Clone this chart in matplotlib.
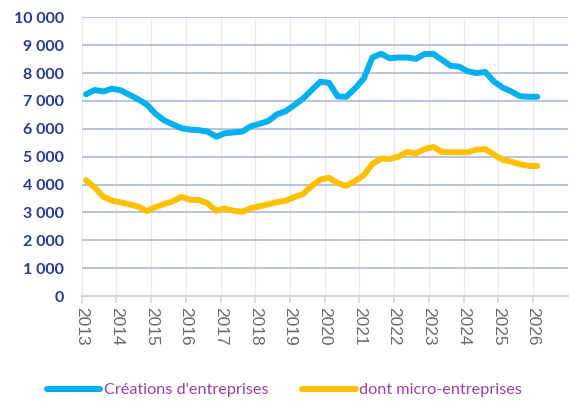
import matplotlib.pyplot as plt
import numpy as np

# quarterly series, 2013Q1 .. 2026Q1
first_year = 2013
creations = [
    7240, 7390, 7340, 7440,
    7380, 7220, 7060, 6870,
    6540, 6300, 6160, 6020,
    5970, 5950, 5900, 5720,
    5840, 5870, 5900, 6090,
    6180, 6280, 6520, 6630,
    6850, 7080, 7390, 7690,
    7650, 7160, 7150, 7450,
    7800, 8560, 8690, 8530,
    8560, 8560, 8510, 8680,
    8690, 8480, 8260, 8230,
    8060, 8000, 8040, 7700,
    7480, 7340, 7170, 7150,
    7150,
]
micro = [
    4150, 3890, 3560, 3420,
    3360, 3290, 3210, 3050,
    3190, 3300, 3400, 3560,
    3450, 3445, 3330, 3060,
    3140, 3060, 3025, 3150,
    3220, 3290, 3370, 3420,
    3550, 3660, 3950, 4180,
    4240, 4050, 3950, 4130,
    4330, 4740, 4930, 4920,
    5000, 5170, 5120, 5270,
    5350, 5170, 5160, 5160,
    5160, 5250, 5270, 5080,
    4890, 4820, 4730, 4670,
    4665,
]
labels = ["Créations d'entreprises", "dont micro-entreprises"]
years = list(range(2013, 2027))
y_ticks = list(range(0, 10001, 1000))

BLUE = '#00b0f0'
GOLD = '#ffc000'

# points sit in the middle of each quarter
x = first_year + (np.arange(len(creations)) + 0.5) / 4

fig = plt.figure(figsize=(5.69, 4.01), dpi=100)
ax = fig.add_axes([0.1436, 0.2618, 0.854, 0.695])

ax.plot(x, creations, color=BLUE, lw=4.3, solid_capstyle='round',
        solid_joinstyle='round', label=labels[0], zorder=3)
ax.plot(x, micro, color=GOLD, lw=4.3, solid_capstyle='round',
        solid_joinstyle='round', label=labels[1], zorder=3)

ax.set_xlim(2013, 2027)
ax.set_ylim(0, 10000)

ax.set_yticks(y_ticks)
ax.set_yticklabels([f'{v:,}'.replace(',', ' ') for v in y_ticks],
                   fontsize=11.5, fontweight='bold', color='#2a3a92',
                   family='Lato')
ax.set_xticks(years)
ax.set_xticklabels([str(yr) for yr in years], rotation=270, fontsize=12.5,
                   color='#6a6a6a', family='Liberation Sans')

ax.tick_params(axis='y', length=0, pad=13)
ax.tick_params(axis='x', length=5, width=1.2, color='#d6d6d6', pad=3)

ax.grid(axis='y', color='#b9bddf', lw=1.3, zorder=1)
ax.grid(axis='x', color='#ebebeb', lw=1.0, zorder=0)
for side in ['left', 'right', 'top']:
    ax.spines[side].set_visible(False)
ax.spines['bottom'].set_color('#d6d6d6')
ax.spines['bottom'].set_linewidth(1.5)
ax.spines['bottom'].set_zorder(2)

leg = fig.legend(loc='center', bbox_to_anchor=(0.5, 0.027), ncol=2,
                 frameon=False, handlelength=3.3, handletextpad=0.2,
                 columnspacing=2.1, prop={'family': 'Lato', 'size': 11.7})
for txt in leg.get_texts():
    txt.set_color('#a0409a')
for line in leg.get_lines():
    line.set_linewidth(4.3)

fig.savefig('out.png', dpi=100)
